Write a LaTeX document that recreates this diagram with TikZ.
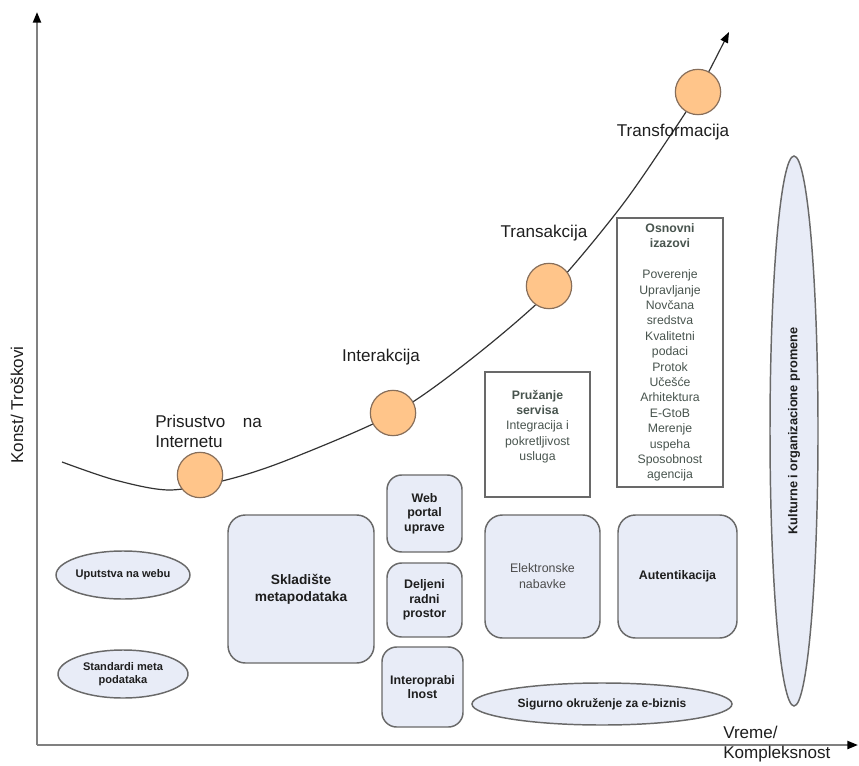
\documentclass[tikz,border=0pt]{standalone}
\usepackage{fontspec}
\setmainfont{Liberation Sans}
\usetikzlibrary{shapes.geometric,arrows.meta}
\definecolor{boxfill}{RGB}{232,236,247}
\definecolor{boxline}{RGB}{105,105,105}
\definecolor{orangefill}{RGB}{255,197,138}
\definecolor{orangeline}{RGB}{135,110,90}
\definecolor{greytext}{RGB}{72,84,78}
\definecolor{axisgray}{RGB}{128,128,128}
\definecolor{darktext}{RGB}{30,30,30}
\begin{document}
\begin{tikzpicture}[x=0.75pt,y=-0.75pt,
  rbox/.style={draw=boxline,fill=boxfill,line width=1.1pt,rounded corners=11pt,inner sep=0pt,align=center,text=darktext,font=\fontsize{9.3}{11}\selectfont\bfseries},
  pbox/.style={draw=boxline,line width=1pt,inner sep=0pt},
  ell/.style={draw=boxline,fill=boxfill,line width=1.1pt,ellipse,inner sep=0pt,align=center,text=darktext,font=\fontsize{8.3}{10}\selectfont\bfseries},
  stage/.style={circle,draw=orangeline,fill=orangefill,line width=0.9pt,minimum size=34pt,inner sep=0pt},
  lbl/.style={font=\fontsize{12.8}{15}\selectfont,text=darktext,inner sep=0pt,align=left},
  list/.style={align=center,text=greytext,inner sep=0pt,font=\fontsize{9.2}{11.55}\selectfont},
  axis/.style={draw=axisgray,line width=1.6pt}
]
\useasboundingbox (0,0) rectangle (859,766);

% axes
\coordinate (O) at (37,745);
\coordinate (ytop) at (37,12);
\coordinate (xend) at (858,745);
\draw[axis,-{Triangle[color=black,length=8pt,width=6pt]}] (O) -- (ytop);
\draw[axis,-{Triangle[color=black,length=8pt,width=6pt]}] (O) -- (xend);
\node[lbl,rotate=90] (ylab) at (17,405) {Konst/ Troškovi};
\node[lbl,anchor=west] (xlab) at (723,744) {Vreme/\\Kompleksnost};

% growth curve
\coordinate (cstart) at (62,462);
\coordinate (cend) at (729,32);
\draw[line width=0.9pt,draw=black!80,-{Triangle[color=black,length=8pt,width=6pt]}]
  plot[smooth,tension=0.5] coordinates {(62,462) (115,480) (170,490) (230,479) (290,459) (393,414) (470,360) (550,291) (620,208) (672,133) (698,92) (729,32)};

% stages
\node[stage] (s1) at (200,475) {};
\node[stage] (s2) at (393,413) {};
\node[stage] (s3) at (549,286) {};
\node[stage] (s4) at (698,92) {};
\node[lbl,anchor=west] (l1) at (155,431) {Prisustvo\hspace{0.75em} na\\Internetu};
\node[lbl] (l2) at (381,357) {Interakcija};
\node[lbl] (l3) at (544,233) {Transakcija};
\node[lbl] (l4) at (673,132) {Transformacija};

% outlined boxes
\node[pbox,minimum width=78.75pt,minimum height=93.75pt] (pruz) at (537.5,434.5) {};
\node[list] (pruzt) at ([yshift=6pt]pruz.center) {\textbf{Pružanje}\\\textbf{servisa}\\Integracija i\\pokretljivost\\usluga};
\node[pbox,minimum width=79.5pt,minimum height=201.75pt] (osn) at (670,352.5) {};
\node[list] (osnt) at (osn.center) {\textbf{Osnovni}\\\textbf{izazovi}\\[11.55pt]Poverenje\\Upravljanje\\Novčana\\sredstva\\Kvalitetni\\podaci\\Protok\\Učešće\\Arhitektura\\E-GtoB\\Merenje\\uspeha\\Sposobnost\\agencija};

% rounded boxes
\node[rbox,minimum width=109.5pt,minimum height=111pt,rounded corners=13pt,font=\fontsize{10.3}{12.5}\selectfont\bfseries] (sklad) at (301,589) {Skladište\\metapodataka};
\node[rbox,minimum width=56.25pt,minimum height=57.75pt] (web) at (424.5,513.5) {Web\\portal\\uprave};
\node[rbox,minimum width=56.25pt,minimum height=55.5pt] (delj) at (424.5,600) {Deljeni\\radni\\prostor};
\node[rbox,minimum width=60.75pt,minimum height=60pt] (inter) at (422.5,687) {Interoprabi\\lnost};
\node[rbox,minimum width=86.25pt,minimum height=92.25pt,rounded corners=13pt,font=\fontsize{9.3}{12}\selectfont,text=black!70] (elek) at (542.5,576.5) {Elektronske\\nabavke};
\node[rbox,minimum width=89.25pt,minimum height=92.25pt,rounded corners=13pt] (aut) at (677.5,576.5) {Autentikacija};

% ellipses
\node[ell,minimum width=97.5pt,minimum height=36pt] (uput) at (123,575) {Uputstva na webu};
\node[ell,minimum width=97.5pt,minimum height=36pt] (stand) at (123,674) {Standardi meta\\podataka};
\node[ell,minimum width=195pt,minimum height=31.5pt,font=\fontsize{9}{11}\selectfont\bfseries] (sigur) at (602,704) {Sigurno okruženje za e-biznis};
\node[ell,rotate=90,minimum width=412.5pt,minimum height=36pt,font=\fontsize{9.6}{11}\selectfont\bfseries] (kult) at (794,431) {Kulturne i organizacione promene};
\end{tikzpicture}
\end{document}
